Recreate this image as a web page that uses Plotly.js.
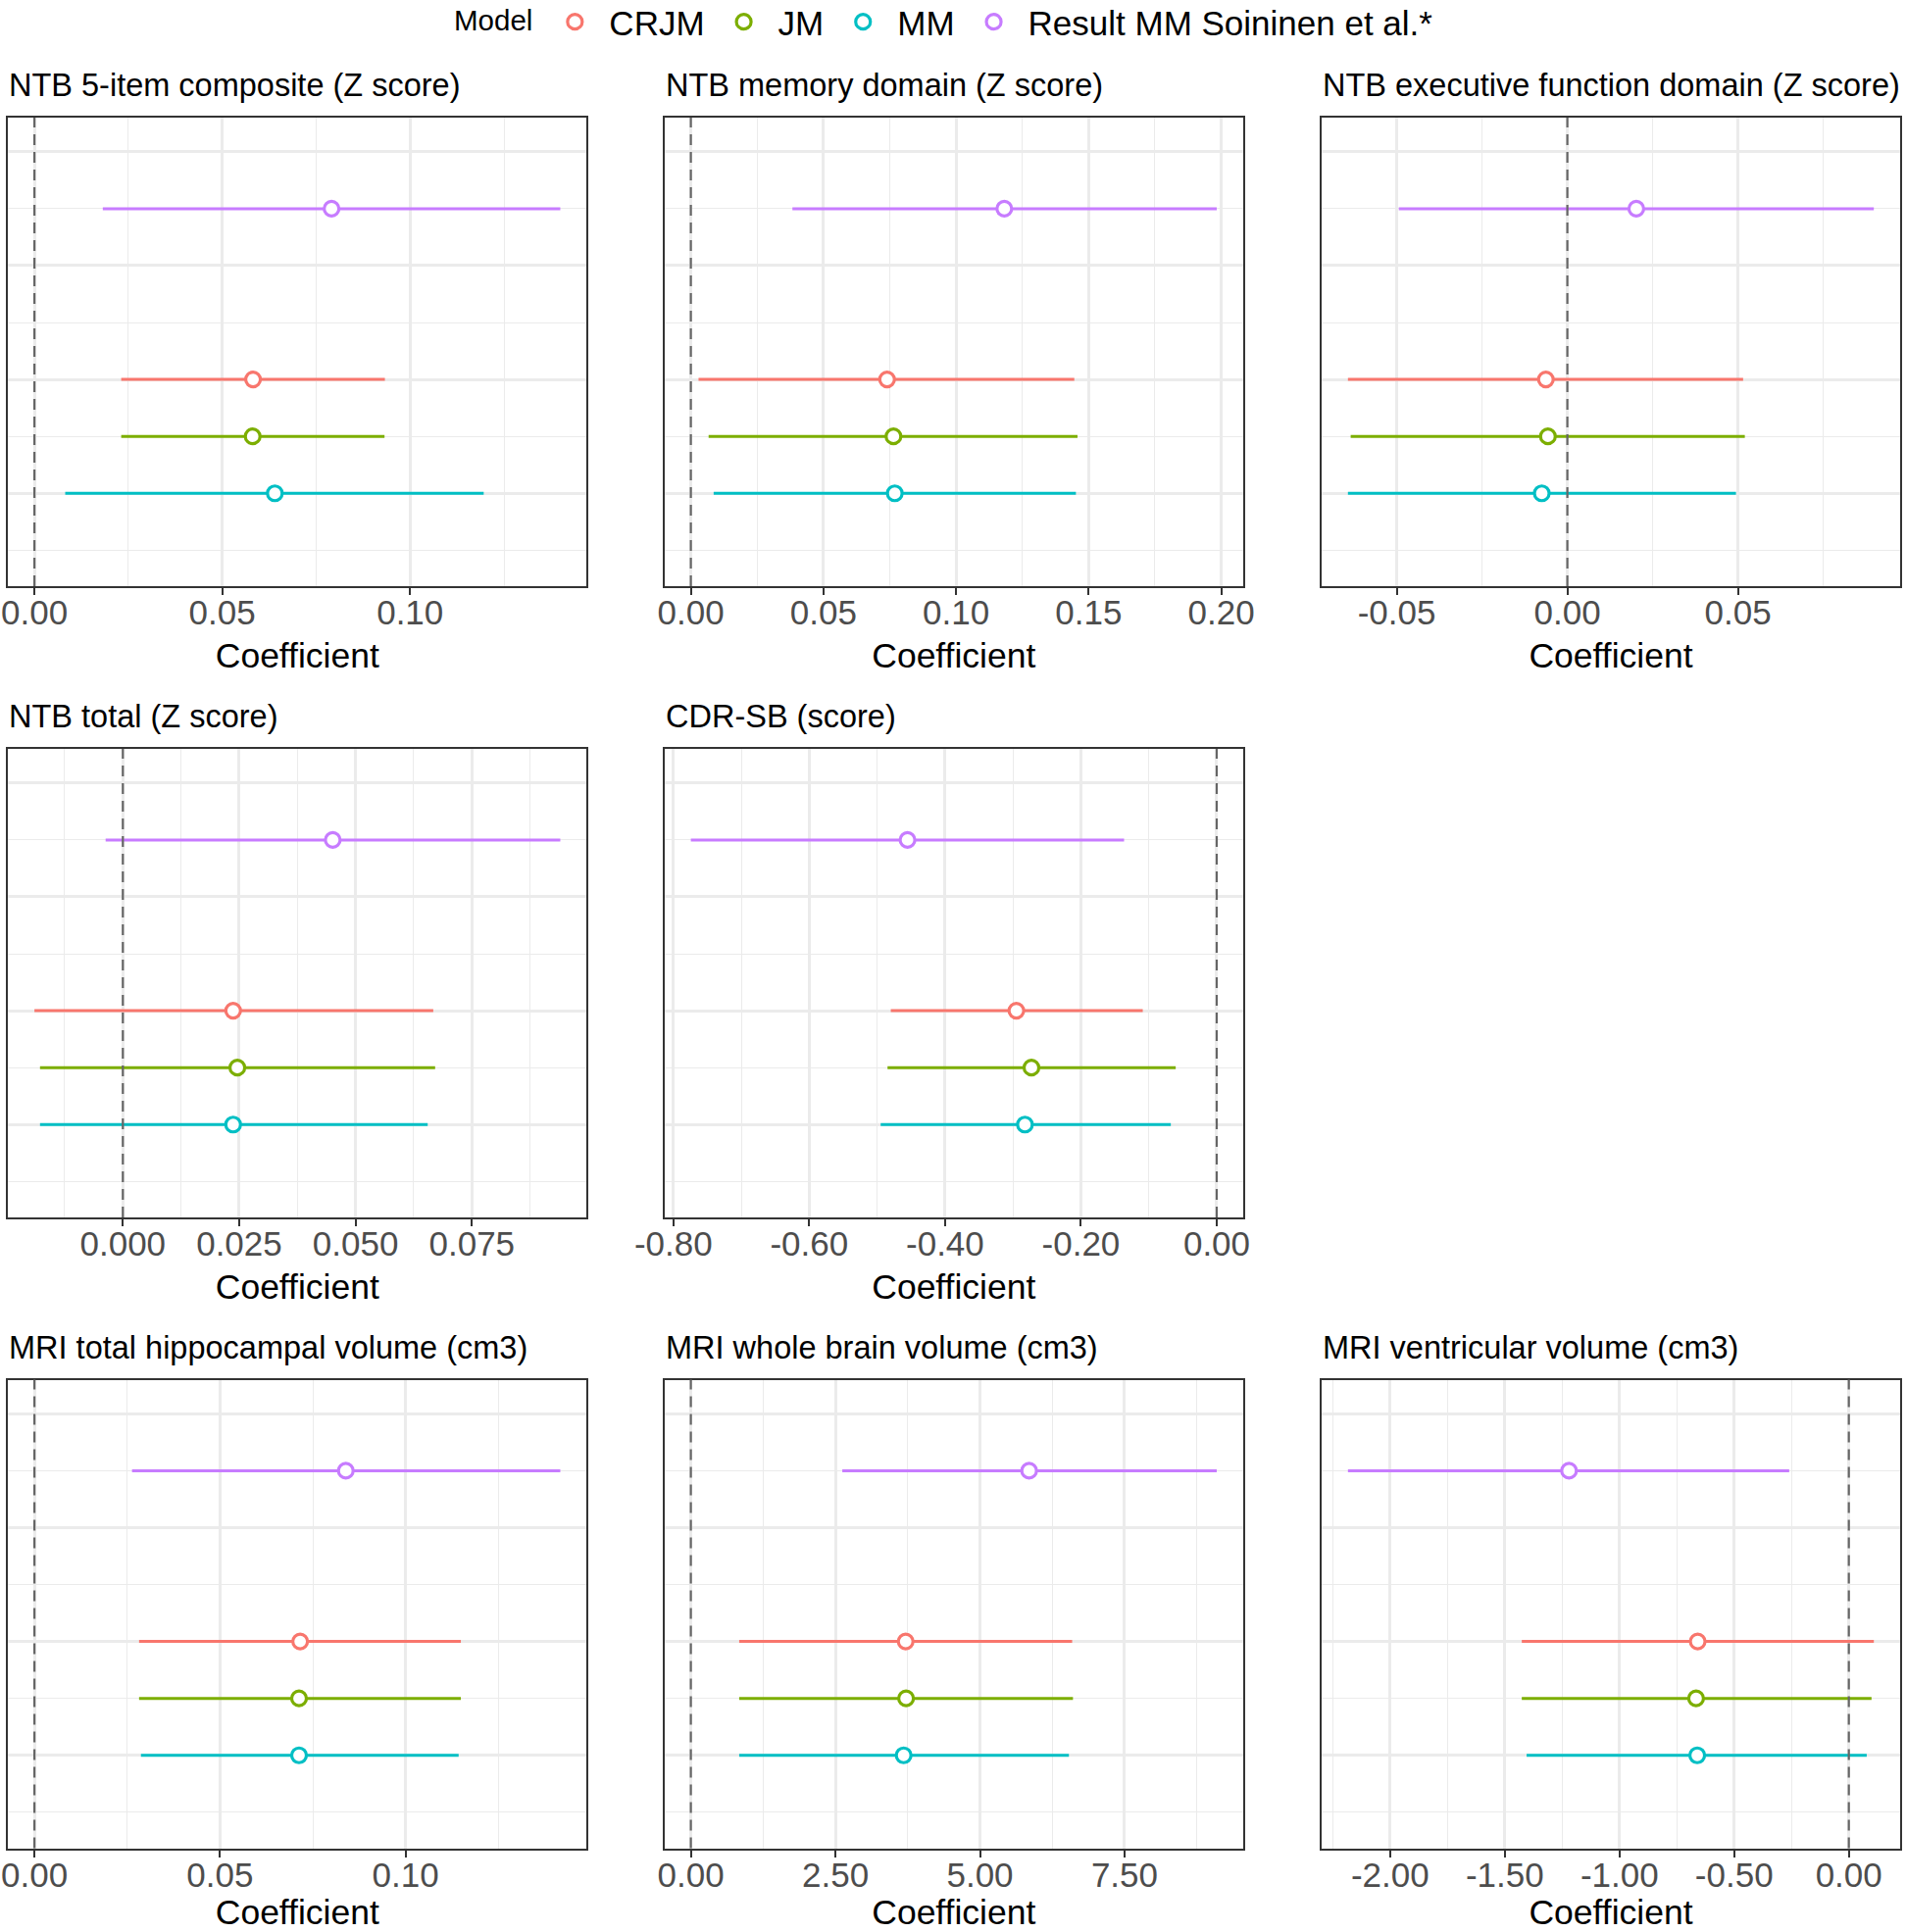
<!DOCTYPE html>
<html>
<head>
<meta charset="utf-8">
<script src="https://cdn.plot.ly/plotly-3.0.1.min.js"></script>
<style>
  html, body { margin: 0; padding: 0; background: #ffffff; }
  #chart { width: 1944px; height: 1971px; }
</style>
</head>
<body>
<div id="chart"></div>
<script>
// models (legend order) and the row each one sits on
const models = ["CRJM", "JM", "MM", "Result MM Soininen et al.*"];
const modelColors = ["#F8766D", "#7CAE00", "#00BFC4", "#C77CFF"];
const modelRows = [2, 1.5, 1, 3.5];

const panelTitles = [
  "NTB 5-item composite (Z score)",
  "NTB memory domain (Z score)",
  "NTB executive function domain (Z score)",
  "NTB total (Z score)",
  "CDR-SB (score)",
  "MRI total hippocampal volume (cm3)",
  "MRI whole brain volume (cm3)",
  "MRI ventricular volume (cm3)"
];

// coefficient estimates per panel, in model order
const estimates = [
  [0.0582, 0.0581, 0.0640, 0.0791],
  [0.0740, 0.0764, 0.0769, 0.1182],
  [-0.0063, -0.0057, -0.0075, 0.0202],
  [0.0237, 0.0246, 0.0237, 0.0451],
  [-0.2950, -0.2728, -0.2824, -0.4553],
  [0.0716, 0.0713, 0.0713, 0.0839],
  [3.715, 3.722, 3.680, 5.850],
  [-0.659, -0.666, -0.661, -1.220]
];
const lowerCI = [
  [0.0231, 0.0231, 0.0082, 0.0182],
  [0.0029, 0.0067, 0.0086, 0.0383],
  [-0.0643, -0.0635, -0.0643, -0.0494],
  [-0.0190, -0.0178, -0.0178, -0.0037],
  [-0.4799, -0.4847, -0.4948, -0.7743],
  [0.0282, 0.0282, 0.0287, 0.0263],
  [0.836, 0.836, 0.836, 2.619],
  [-1.426, -1.426, -1.405, -2.184]
];
const upperCI = [
  [0.0933, 0.0932, 0.1196, 0.1400],
  [0.1446, 0.1458, 0.1452, 0.1983],
  [0.0515, 0.0520, 0.0494, 0.0898],
  [0.0667, 0.0671, 0.0655, 0.0940],
  [-0.1089, -0.0604, -0.0676, -0.1364],
  [0.1149, 0.1149, 0.1143, 0.1417],
  [6.594, 6.608, 6.538, 9.094],
  [0.109, 0.099, 0.078, -0.260]
];

// x tick labels per panel
const tickValues = [
  [0, 0.05, 0.10],
  [0, 0.05, 0.10, 0.15, 0.20],
  [-0.05, 0, 0.05],
  [0, 0.025, 0.05, 0.075],
  [-0.8, -0.6, -0.4, -0.2, 0],
  [0, 0.05, 0.10],
  [0, 2.5, 5, 7.5],
  [-2, -1.5, -1, -0.5, 0]
];
const tickDecimals = [2, 2, 2, 3, 2, 2, 2, 2];
const minorSteps = [0.025, 0.025, 0.025, 0.0125, 0.1, 0.025, 1.25, 0.25];

const rowMajor = [1, 2, 3, 4];
const rowMinor = [0.5, 1.5, 2.5, 3.5];

// page geometry (px)
const W = 1944, H = 1971;
const colLeft = [8.3, 677.8, 1348];
const colWidth = 590;
const rowTop = [120, 764, 1407.5];
const rowHeight = 478;
const panelCells = [[0, 0], [0, 1], [0, 2], [1, 0], [1, 1], [2, 0], [2, 1], [2, 2]];

const FONT = "Liberation Sans, Arial, Helvetica, sans-serif";
const GRID = "#EBEBEB";
const INK = "#333333";

// ggplot-like limits: data plus the zero line, expanded 5%
function ggRange(lo, hi) {
  const a = Math.min(0, ...lo);
  const b = Math.max(0, ...hi);
  const pad = (b - a) * 0.05;
  return [a - pad, b + pad];
}

const traces = [];
const layout = {
  width: W,
  height: H,
  margin: { l: 0, r: 0, t: 0, b: 0, autoexpand: false },
  paper_bgcolor: "#ffffff",
  plot_bgcolor: "#ffffff",
  font: { family: FONT, size: 34, color: "#000000" },
  showlegend: true,
  legend: {
    orientation: "h",
    x: 461 / W,
    xanchor: "left",
    y: 1.0036,
    yanchor: "top",
    itemwidth: 60,
    font: { size: 35, color: "#000000" },
    title: { text: "Model", side: "left", font: { size: 29.5, color: "#000000" } },
    bgcolor: "rgba(0,0,0,0)",
    itemclick: false,
    itemdoubleclick: false
  },
  shapes: [],
  annotations: []
};

panelTitles.forEach((title, p) => {
  const [r, c] = panelCells[p];
  const n = p + 1;
  const xId = "x" + (n === 1 ? "" : n);
  const yId = "y" + (n === 1 ? "" : n);
  const xKey = "xaxis" + (n === 1 ? "" : n);
  const yKey = "yaxis" + (n === 1 ? "" : n);

  const x0 = colLeft[c] / W;
  const x1 = (colLeft[c] + colWidth) / W;
  const yTop = 1 - rowTop[r] / H;
  const yBot = 1 - (rowTop[r] + rowHeight) / H;

  layout[xKey] = {
    domain: [x0, x1],
    anchor: yId,
    range: ggRange(lowerCI[p], upperCI[p]),
    tickmode: "array",
    tickvals: tickValues[p],
    ticktext: tickValues[p].map((v) => v.toFixed(tickDecimals[p])),
    ticks: "outside",
    ticklen: 7,
    tickwidth: 2,
    tickcolor: INK,
    ticklabelstandoff: -12,
    tickfont: { family: FONT, size: 35, color: "#4D4D4D" },
    showgrid: true,
    gridcolor: GRID,
    gridwidth: 2.5,
    minor: {
      tick0: 0,
      dtick: minorSteps[p],
      showgrid: true,
      gridcolor: GRID,
      gridwidth: 1.4,
      ticks: ""
    },
    zeroline: false,
    showline: true,
    mirror: true,
    linecolor: INK,
    linewidth: 2,
    title: { text: "Coefficient", font: { family: FONT, size: 35.5, color: "#000000" }, standoff: 13 },
    automargin: false,
    fixedrange: true
  };

  layout[yKey] = {
    domain: [yBot, yTop],
    anchor: xId,
    range: [0.184, 4.3],
    tickmode: "array",
    tickvals: rowMajor,
    showticklabels: false,
    ticks: "",
    showgrid: true,
    gridcolor: GRID,
    gridwidth: 2.5,
    minor: { tickvals: rowMinor, showgrid: true, gridcolor: GRID, gridwidth: 1.4, ticks: "" },
    zeroline: false,
    showline: true,
    mirror: true,
    linecolor: INK,
    linewidth: 2,
    automargin: false,
    fixedrange: true
  };

  // reference line at zero
  layout.shapes.push({
    type: "line",
    xref: xId,
    yref: yId + " domain",
    x0: 0,
    x1: 0,
    y0: 0,
    y1: 1,
    line: { color: "#666666", width: 2.2, dash: "11px,7px" }
  });

  layout.annotations.push({
    text: title,
    xref: xId + " domain",
    yref: yId + " domain",
    x: 0,
    y: 1,
    xanchor: "left",
    yanchor: "middle",
    xshift: -1,
    yshift: 33,
    showarrow: false,
    font: { family: FONT, size: 32.5, color: "#000000" }
  });

  models.forEach((name, m) => {
    const est = estimates[p][m];
    traces.push({
      type: "scatter",
      mode: "markers",
      name: name,
      showlegend: p === 0,
      xaxis: xId,
      yaxis: yId,
      x: [est],
      y: [modelRows[m]],
      error_x: {
        type: "data",
        symmetric: false,
        array: [upperCI[p][m] - est],
        arrayminus: [est - lowerCI[p][m]],
        width: 0,
        thickness: 3,
        color: modelColors[m]
      },
      marker: {
        symbol: "circle",
        size: 15,
        color: "#ffffff",
        line: { color: modelColors[m], width: 3.2 }
      },
      hovertemplate: name + ": %{x:.3f}<extra></extra>"
    });
  });
});

Plotly.newPlot("chart", traces, layout, { displayModeBar: false, responsive: false });
</script>
</body>
</html>
